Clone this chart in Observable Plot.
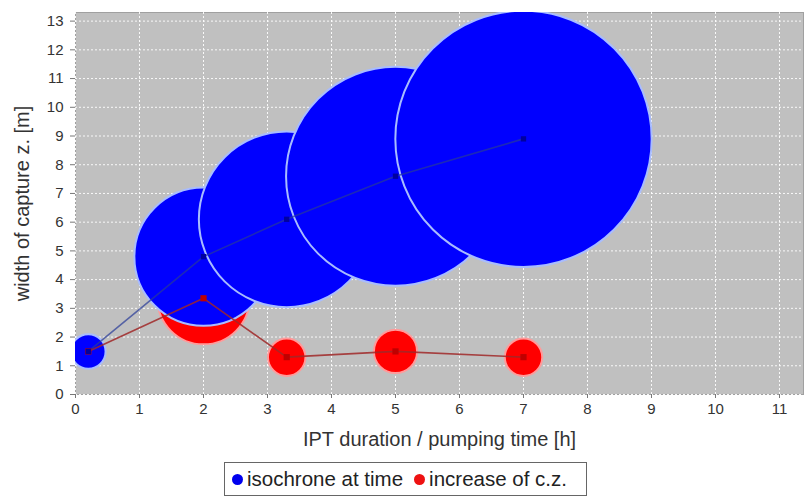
<!DOCTYPE html>
<html><head><meta charset="utf-8">
<script src="https://cdn.jsdelivr.net/npm/d3@7"></script>
<script src="https://cdn.jsdelivr.net/npm/@observablehq/plot@0.6"></script>
<style>
body{margin:0;background:#fff;font-family:"Liberation Sans",Arial,sans-serif;}
#chart{position:absolute;left:0;top:0;}
#legend{position:absolute;left:224px;top:462px;width:363px;height:34px;border:1px solid #666;display:flex;align-items:center;font-size:20.5px;color:#222;box-sizing:border-box;padding-left:7px;white-space:nowrap;}
.dot{display:inline-block;width:11px;height:11px;border-radius:50%;margin-right:4px}
</style></head><body>
<div id="chart"></div>
<div id="legend"><span class="dot" style="background:#0000ee"></span>isochrone at time<span class="dot" style="background:#ee1111;margin-left:11px"></span>increase of c.z.</div>
<script>
const times = [0.2, 2, 3.3, 5, 7];
const isochroneWidth = [1.5, 4.8, 6.1, 7.6, 8.9];
const isochroneSize = [1.2, 4.8, 6.1, 7.6, 8.9];
const increase = [1.5, 3.35, 1.3, 1.5, 1.3];
const increaseSize = [1.0, 3.2, 1.3, 1.5, 1.3];
const xTicks = d3.range(0, 12);
const yTicks = d3.range(0, 14);
const xLabel = "IPT duration / pumping time [h]";
const yLabel = "width of capture z. [m]";

const blue = times.map((t, i) => ({t, v: isochroneWidth[i], s: isochroneSize[i]}));
const red = times.map((t, i) => ({t, v: increase[i], s: increaseSize[i]}));

const chart = Plot.plot({
  width: 808,
  height: 456,
  marginLeft: 75,
  marginRight: 5,
  marginTop: 12,
  marginBottom: 62,
  style: {fontFamily: "'Liberation Sans', Arial, sans-serif", fontSize: "15px", color: "#333", background: "transparent"},
  x: {domain: [0, 11.375]},
  y: {domain: [0, 13.3]},
  r: {type: "linear", domain: [0, 10], range: [0, 144]},
  marks: [
    Plot.frame({fill: "#c0c0c0", stroke: "#a0a0a0"}),
    Plot.gridX(xTicks, {stroke: "#fff", strokeOpacity: 0.9, strokeDasharray: "2,2"}),
    Plot.gridY(yTicks, {stroke: "#fff", strokeOpacity: 0.9, strokeDasharray: "2,2"}),
    Plot.axisX(xTicks, {tickSize: 4, tickPadding: 5, fontSize: 15, stroke: "#777", label: null, fill: "#333"}),
    Plot.axisY(yTicks, {tickSize: 5, tickPadding: 7, fontSize: 15, stroke: "#777", label: null, fill: "#333"}),
    Plot.text([xLabel], {frameAnchor: "bottom", dy: 45, fontSize: 20, fill: "#333", lineAnchor: "middle"}),
    Plot.text([yLabel], {frameAnchor: "left", dx: -53, rotate: -90, textAnchor: "middle", fontSize: 20, fill: "#333", lineAnchor: "middle"}),
    Plot.dot(red, {x: "t", y: "v", r: "s", sort: null, fill: "#ff0000", stroke: "#ff9a9a", strokeWidth: 2, clip: true}),
    Plot.dot(blue, {x: "t", y: "v", r: "s", sort: null, fill: "#0000ff", stroke: "#a8bcff", strokeWidth: 2, clip: true}),
    Plot.line(blue, {x: "t", y: "v", stroke: "#283a98", strokeWidth: 1.6, strokeOpacity: 0.7}),
    Plot.line(red, {x: "t", y: "v", stroke: "#a02828", strokeWidth: 1.6, strokeOpacity: 0.85}),
    Plot.dot(red, {x: "t", y: "v", symbol: "square", r: 3.5, fill: "#c00000"}),
    Plot.dot(blue, {x: "t", y: "v", symbol: "square", r: 3, fill: "#0000a0"})
  ]
});
document.getElementById("chart").append(chart);
</script>
</body></html>
